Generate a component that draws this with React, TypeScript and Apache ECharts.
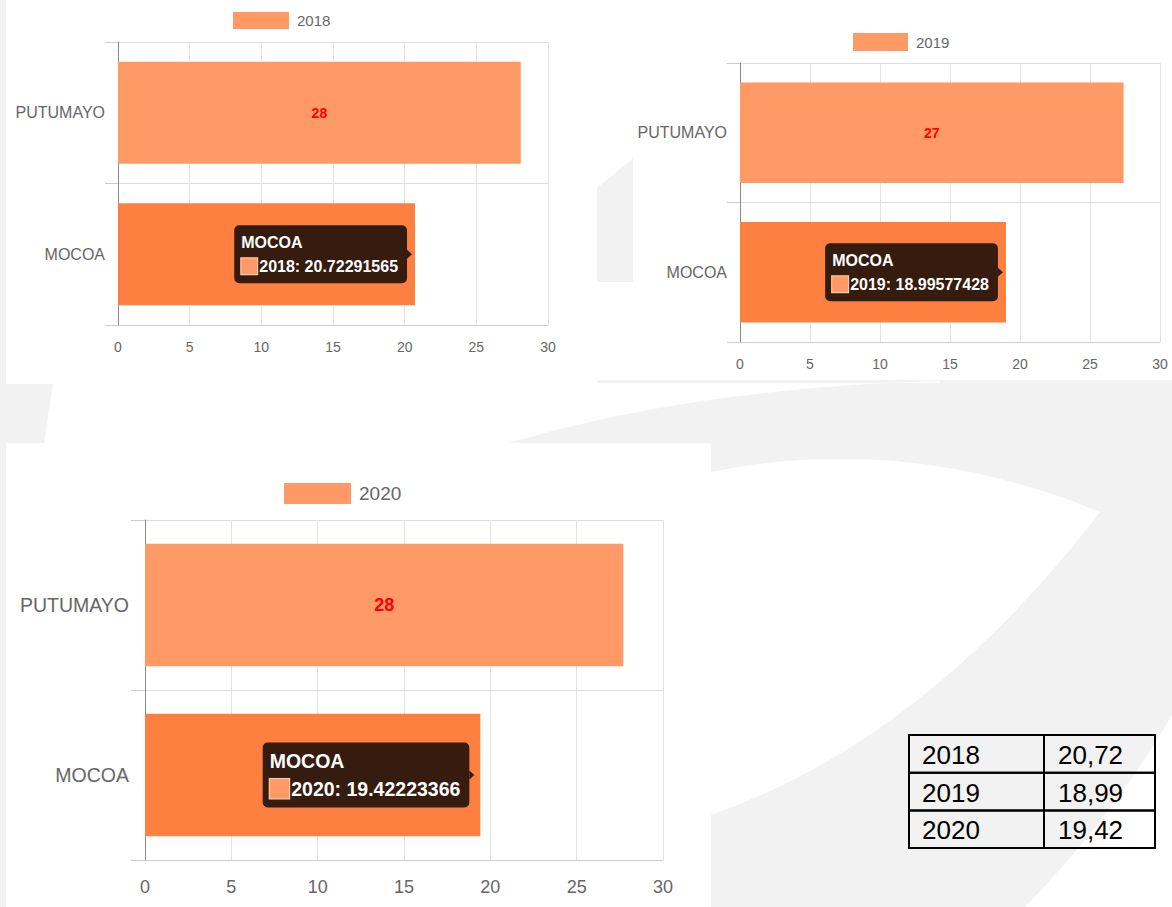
import React, { useEffect, useRef } from "react";
import * as echarts from "echarts";

// ---- data ----
const categories = ["PUTUMAYO", "MOCOA"];
const years = ["2018", "2019", "2020"];
const putumayoValues = [28.1, 27.4, 27.7];
const mocoaValues = [20.72291565, 18.99577428, 19.42223366];
const xMin = 0;
const xMax = 30;
const xInterval = 5;
const tableYears = ["2018", "2019", "2020"];
const tableValues = ["20,72", "18,99", "19,42"];

// ---- layout (positions / styles only) ----
const panels = [
  { grid: { left: 118, top: 42, width: 430, height: 283 }, font: 14, catFont: 16, legend: { left: 233, top: 12, w: 56, h: 17 }, legendFont: 15, tipFont: 16, dist: 8, xMargin: 15, yMargin: 13, tick: 13 },
  { grid: { left: 740, top: 63, width: 420, height: 279 }, font: 14, catFont: 16, legend: { left: 853, top: 33, w: 55, h: 18 }, legendFont: 15, tipFont: 16, dist: 8, xMargin: 15, yMargin: 13, tick: 13 },
  { grid: { left: 145, top: 520, width: 518, height: 340 }, font: 18, catFont: 19.5, legend: { left: 284, top: 483, w: 67, h: 21 }, legendFont: 19, tipFont: 19.5, dist: 11, xMargin: 18, yMargin: 16, tick: 14 },
];

const LIGHT = "#ff9966";
const DARK = "#fe8041";
const TIP_BG = "#361b0f";
const GRAY_BG = "#f2f2f2";

echarts.graphic.registerShape(
  "betweenShape",
  echarts.graphic.extendPath("M53,383 L44,444 L505,444 C620,410 760,386 940,381 L940,383 Z", {})
);
echarts.graphic.registerShape(
  "leafShape",
  echarts.graphic.extendPath("M711,472 Q905,432 1100,512 Q925,740 711,815 Z", {})
);
echarts.graphic.registerShape(
  "cornerShape",
  echarts.graphic.extendPath("M1172,715 L1172,907 L1025,907 Q1110,820 1172,715 Z", {})
);

function buildOption() {
  const grid: any[] = [];
  const xAxis: any[] = [];
  const yAxis: any[] = [];
  const legend: any[] = [];
  const series: any[] = [];

  panels.forEach((p, i) => {
    grid.push({ ...p.grid, containLabel: false });
    xAxis.push({
      type: "value",
      gridIndex: i,
      min: xMin,
      max: xMax,
      interval: xInterval,
      axisLine: { show: true, lineStyle: { color: "#cccccc", width: 1 } },
      axisTick: { show: false },
      axisLabel: { color: "#666666", fontSize: p.font, margin: p.xMargin },
      splitLine: { show: true, lineStyle: { color: "#e3e3e3", width: 1 } },
    });
    yAxis.push({
      type: "category",
      gridIndex: i,
      data: categories,
      inverse: true,
      axisLine: { show: true, lineStyle: { color: "#8a8a8a", width: 1 } },
      axisTick: { show: true, length: p.tick, lineStyle: { color: "#cccccc" } },
      axisLabel: { color: "#666666", fontSize: p.catFont, margin: p.yMargin },
      splitLine: { show: true, lineStyle: { color: "#dddddd", width: 1 } },
    });
    legend.push({
      data: [years[i]],
      left: p.legend.left,
      top: p.legend.top,
      padding: 0,
      itemWidth: p.legend.w,
      itemHeight: p.legend.h,
      icon: "rect",
      textStyle: { color: "#666666", fontSize: p.legendFont, padding: [0, 0, 0, 3] },
    });
    const fs = p.tipFont;
    series.push({
      type: "bar",
      name: years[i],
      xAxisIndex: i,
      yAxisIndex: i,
      barCategoryGap: "28%",
      itemStyle: { color: LIGHT },
      data: [
        {
          value: putumayoValues[i],
          itemStyle: { color: LIGHT },
          label: {
            show: true,
            position: "inside",
            color: "#ff0000",
            fontWeight: "bold",
            fontSize: p.font,
            formatter: (d: any) => String(Math.round(d.value)),
          },
        },
        {
          value: mocoaValues[i],
          itemStyle: { color: DARK },
          label: {
            show: true,
            position: "insideRight",
            distance: p.dist,
            backgroundColor: TIP_BG,
            borderRadius: 5,
            padding: [5, 9, 5, 7],
            formatter: `{t|${categories[1]}}\n{sq|}{v|${years[i]}: ${mocoaValues[i]}}`,
            rich: {
              t: { color: "#ffffff", fontWeight: "bold", fontSize: fs, lineHeight: fs + 8, align: "left" },
              sq: { width: fs, height: fs, backgroundColor: LIGHT, borderColor: "#ffd2b8", borderWidth: 1, align: "left" },
              v: { color: "#ffffff", fontWeight: "bold", fontSize: fs, lineHeight: fs + 8, padding: [0, 0, 0, 2], align: "left" },
            },
          },
        },
      ],
      markPoint: {
        silent: true,
        label: { show: false },
        data: [
          {
            coord: [mocoaValues[i], categories[1]],
            symbol: "triangle",
            symbolRotate: -90,
            symbolSize: [9, 5],
            symbolOffset: [-(p.dist - 2.5), 0],
            itemStyle: { color: TIP_BG },
          },
        ],
      },
    });
  });

  // background & table graphics
  const graphic: any[] = [
    { type: "rect", z: -100, shape: { x: 0, y: 0, width: 1172, height: 907 }, style: { fill: GRAY_BG } },
    { type: "rect", z: -99, shape: { x: 6, y: 0, width: 591, height: 384 }, style: { fill: "#ffffff" } },
    { type: "rect", z: -99, shape: { x: 597, y: 0, width: 575, height: 380 }, style: { fill: "#ffffff" } },
    { type: "polygon", z: -98, shape: { points: [[597, 188], [633, 158], [633, 282], [597, 282]] }, style: { fill: GRAY_BG } },
    { type: "betweenShape", z: -99, x: 0, y: 0, style: { fill: "#ffffff" } },
    { type: "leafShape", z: -99, x: 0, y: 0, style: { fill: "#ffffff" } },
    { type: "cornerShape", z: -99, x: 0, y: 0, style: { fill: "#ffffff" } },
    { type: "rect", z: -97, shape: { x: 6, y: 443, width: 705, height: 464 }, style: { fill: "#ffffff" } },
  ];

  const tx = 909, ty = 735, colSplit = 1044, tw = 246, rowH = 37.7;
  tableYears.forEach((yr, r) => {
    const y0 = ty + r * rowH;
    graphic.push({ type: "rect", z: 50, shape: { x: tx, y: y0, width: colSplit - tx, height: rowH }, style: { fill: "transparent", stroke: "#000", lineWidth: 2 } });
    graphic.push({ type: "rect", z: 50, shape: { x: colSplit, y: y0, width: tx + tw - colSplit, height: rowH }, style: { fill: "transparent", stroke: "#000", lineWidth: 2 } });
    graphic.push({ type: "text", z: 51, x: tx + 13, y: y0 + rowH / 2 + 1, style: { text: yr, fill: "#000", fontSize: 26, fontFamily: "Liberation Sans", verticalAlign: "middle", align: "left" } });
    graphic.push({ type: "text", z: 51, x: colSplit + 14, y: y0 + rowH / 2 + 1, style: { text: tableValues[r], fill: "#000", fontSize: 26, fontFamily: "Liberation Sans", verticalAlign: "middle", align: "left" } });
  });

  return {
    animation: false,
    textStyle: { fontFamily: "Liberation Sans, Arial, sans-serif" },
    grid,
    xAxis,
    yAxis,
    legend,
    series,
    graphic,
  };
}

export default function App() {
  const ref = useRef<HTMLDivElement>(null);
  useEffect(() => {
    if (!ref.current) return;
    const chart = echarts.init(ref.current, undefined, { renderer: "svg" });
    chart.setOption(buildOption() as any);
    return () => chart.dispose();
  }, []);
  return (
    <div
      ref={ref}
      style={{ position: "absolute", left: 0, top: 0, width: 1172, height: 907 }}
    />
  );
}
